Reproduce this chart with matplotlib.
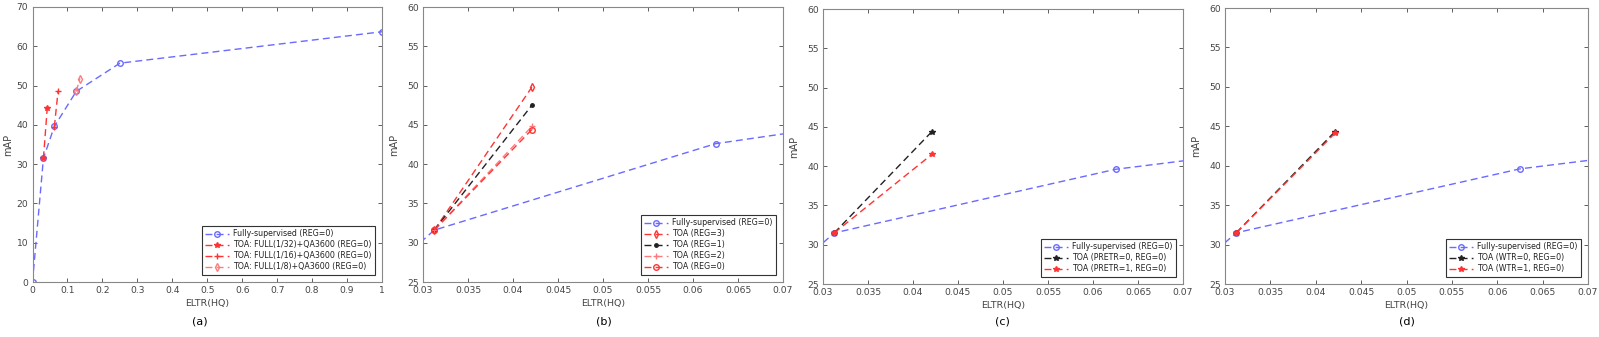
import matplotlib
matplotlib.use('Agg')
import matplotlib.pyplot as plt

# data
fully_x = [0, 0.03125, 0.0625, 0.125, 0.25, 1.0]
fully_y = [0, 31.5, 39.6, 48.5, 55.7, 63.7]
fully_y_b = [0, 31.6, 42.6, 53.0, 55.7, 63.7]

a_full32_x = [0.03125, 0.0421]
a_full32_y = [31.5, 44.2]
a_full16_x = [0.0625, 0.0733]
a_full16_y = [39.5, 48.7]
a_full8_x = [0.125, 0.1358]
a_full8_y = [48.5, 51.8]

toa_x = [0.03125, 0.0421]
b_reg3 = [31.6, 49.8]
b_reg1 = [31.6, 47.5]
b_reg2 = [31.6, 44.8]
b_reg0 = [31.6, 44.4]

c_pretr0 = [31.5, 44.4]
c_pretr1 = [31.5, 41.5]

d_wtr0 = [31.5, 44.3]
d_wtr1 = [31.5, 44.1]

BLUE = '#6a6aff'
RED = '#ff3333'
LRED = '#ff7b7b'
BLACK = '#222222'
GRAY = '#444444'

W, H = 1599, 337
fig = plt.figure(figsize=(W / 100, H / 100), dpi=100)


def box(l, t, r, b):
    return [l / W, 1 - b / H, (r - l) / W, (b - t) / H]


def style(ax, ylab_x):
    ax.tick_params(direction='in', top=True, right=True, labelsize=6.6,
                   colors=GRAY, length=3, width=0.6, pad=3)
    for s in ax.spines.values():
        s.set_color('#888888')
        s.set_linewidth(0.8)
    ax.set_xlabel('ELTR(HQ)', fontsize=6.8, color=GRAY, labelpad=3)
    ax.set_ylabel('mAP', fontsize=7, color=GRAY)
    ax.yaxis.set_label_coords(ylab_x, 0.5)


def legend(ax):
    leg = ax.legend(loc='lower right', fontsize=5.7, fancybox=False,
                    edgecolor='#333333', framealpha=1, borderpad=0.45,
                    labelspacing=0.25, handlelength=3.0, handletextpad=0.5,
                    borderaxespad=0.9)
    leg.get_frame().set_linewidth(0.8)
    for t in leg.get_texts():
        t.set_color('#222222')


def zoom_axes(ax):
    ax.set_xlim(0.03, 0.07)
    ax.set_ylim(25, 60)
    ax.set_xticks([0.03, 0.035, 0.04, 0.045, 0.05, 0.055, 0.06, 0.065, 0.07])
    ax.set_xticklabels(['0.03', '0.035', '0.04', '0.045', '0.05', '0.055',
                        '0.06', '0.065', '0.07'])
    ax.set_yticks(range(25, 61, 5))


dash = (0, (5, 3))
ms = 4

# (a)
ax = fig.add_axes(box(32.5, 7, 382, 282))
ax.plot(fully_x, fully_y, color=BLUE, ls=dash, lw=1, marker='o', ms=ms,
        mfc='none', label='Fully-supervised (REG=0)')
ax.plot(a_full32_x, a_full32_y, color=RED, ls=dash, lw=1, marker='*', ms=ms,
        label='TOA: FULL(1/32)+QA3600 (REG=0)')
ax.plot(a_full16_x, a_full16_y, color=RED, ls=dash, lw=1, marker='+', ms=ms + 1,
        label='TOA: FULL(1/16)+QA3600 (REG=0)')
ax.plot(a_full8_x, a_full8_y, color=LRED, ls=dash, lw=1, marker='d', ms=ms,
        mfc='none', label='TOA: FULL(1/8)+QA3600 (REG=0)')
ax.set_xlim(0, 1)
ax.set_ylim(0, 70)
ax.set_xticks([0, 0.1, 0.2, 0.3, 0.4, 0.5, 0.6, 0.7, 0.8, 0.9, 1])
ax.set_xticklabels(['0', '0.1', '0.2', '0.3', '0.4', '0.5', '0.6', '0.7',
                    '0.8', '0.9', '1'])
ax.set_yticks(range(0, 71, 10))
style(ax, -0.056)
legend(ax)

# (b)
ax = fig.add_axes(box(423, 7, 783, 282))
ax.plot(fully_x, fully_y_b, color=BLUE, ls=dash, lw=1, marker='o', ms=ms,
        mfc='none', label='Fully-supervised (REG=0)')
ax.plot(toa_x, b_reg3, color=RED, ls=dash, lw=1, marker='d', ms=ms,
        mfc='none', label='TOA (REG=3)')
ax.plot(toa_x, b_reg1, color=BLACK, ls=dash, lw=1, marker='.', ms=ms + 1,
        label='TOA (REG=1)')
ax.plot(toa_x, b_reg2, color=LRED, ls=dash, lw=1, marker='+', ms=ms + 1,
        label='TOA (REG=2)')
ax.plot(toa_x, b_reg0, color=RED, ls=dash, lw=1, marker='o', ms=ms,
        mfc='none', label='TOA (REG=0)')
zoom_axes(ax)
style(ax, -0.065)
legend(ax)

# (c)
ax = fig.add_axes(box(823, 9, 1183, 284))
ax.plot(fully_x, fully_y, color=BLUE, ls=dash, lw=1, marker='o', ms=ms,
        mfc='none', label='Fully-supervised (REG=0)')
ax.plot(toa_x, c_pretr0, color=BLACK, ls=dash, lw=1, marker='*', ms=ms,
        label='TOA (PRETR=0, REG=0)')
ax.plot(toa_x, c_pretr1, color=RED, ls=dash, lw=1, marker='*', ms=ms,
        label='TOA (PRETR=1, REG=0)')
zoom_axes(ax)
style(ax, -0.065)
legend(ax)

# (d)
ax = fig.add_axes(box(1225, 8, 1588, 284))
ax.plot(fully_x, fully_y, color=BLUE, ls=dash, lw=1, marker='o', ms=ms,
        mfc='none', label='Fully-supervised (REG=0)')
ax.plot(toa_x, d_wtr0, color=BLACK, ls=dash, lw=1, marker='*', ms=ms,
        label='TOA (WTR=0, REG=0)')
ax.plot(toa_x, d_wtr1, color=RED, ls=dash, lw=1, marker='*', ms=ms,
        label='TOA (WTR=1, REG=0)')
zoom_axes(ax)
style(ax, -0.065)
legend(ax)

for lab, xc in [('(a)', 200), ('(b)', 604), ('(c)', 1002), ('(d)', 1407)]:
    fig.text(xc / W, 1 - 321 / H, lab, ha='center', va='center', fontsize=8,
             color='black')

fig.savefig('out.png', dpi=100)
